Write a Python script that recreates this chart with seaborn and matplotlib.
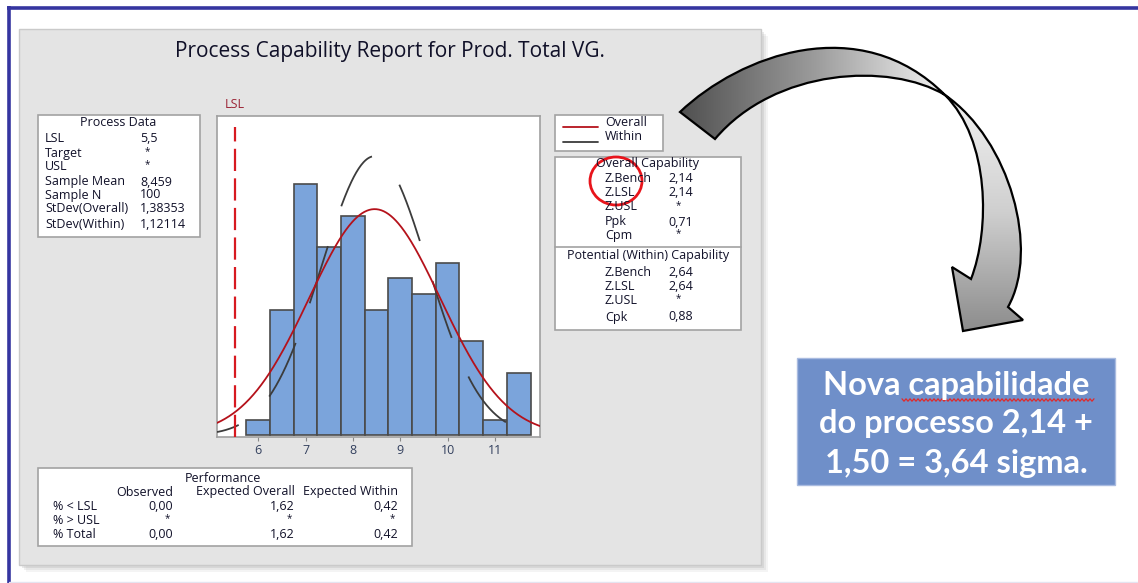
import numpy as np
import matplotlib
matplotlib.use("Agg")
import matplotlib.pyplot as plt
import seaborn as sns
from matplotlib.patches import Rectangle, PathPatch, Ellipse
from matplotlib.path import Path
from matplotlib.colors import LinearSegmentedColormap

# histogram data
bin_edges = [5.75, 6.25, 6.75, 7.25, 7.75, 8.25, 8.75, 9.25, 9.75, 10.25, 10.75, 11.25, 11.75]
bin_counts = [1, 8, 16, 12, 14, 8, 10, 9, 11, 6, 1, 4]
bin_mids = [6.0, 6.5, 7.0, 7.5, 8.0, 8.5, 9.0, 9.5, 10.0, 10.5, 11.0, 11.5]
x_ticks = [6, 7, 8, 9, 10, 11]

lsl = 5.5
sample_mean = 8.459
sample_n = 100
sd_overall = 1.38353
sd_within = 1.12114

process_labels = ["LSL", "Target", "USL", "Sample Mean", "Sample N", "StDev(Overall)", "StDev(Within)"]
process_values = ["5,5", "*", "*", "8,459", "100", "1,38353", "1,12114"]

overall_labels = ["Z.Bench", "Z.LSL", "Z.USL", "Ppk", "Cpm"]
overall_values = ["2,14", "2,14", "*", "0,71", "*"]
within_labels = ["Z.Bench", "Z.LSL", "Z.USL", "Cpk"]
within_values = ["2,64", "2,64", "*", "0,88"]

perf_rows = ["% < LSL", "% > USL", "% Total"]
perf_observed = ["0,00", "*", "0,00"]
perf_exp_overall = ["1,62", "*", "1,62"]
perf_exp_within = ["0,42", "*", "0,42"]

W, H = 1138, 583
TXT = "#101028"

sns.set_theme(style="white")
plt.rcParams['font.family'] = ['Open Sans', 'DejaVu Sans']

fig = plt.figure(figsize=(W / 100, H / 100), dpi=100)
fig.patch.set_facecolor("white")

# background / decoration axes in pixel coordinates
bg = fig.add_axes([0, 0, 1, 1], zorder=0)
bg.set_xlim(0, W)
bg.set_ylim(H, 0)
bg.axis("off")

# outer frame
bg.plot([7, W], [7.5, 7.5], color="#3535a0", lw=2.6, solid_capstyle="butt")
bg.plot([9, 9], [6, H], color="#3535a0", lw=2.6, solid_capstyle="butt")
bg.plot([9, W], [581.5, 581.5], color="#e4e4f0", lw=1)

# report panel with soft shadow
for i, a in enumerate([0.10, 0.14, 0.20]):
    off = 7 - 2 * i
    bg.add_patch(Rectangle((19 + off, 29 + off), 742, 536, facecolor="#9a9a9a",
                           edgecolor="none", alpha=a))
bg.add_patch(Rectangle((19, 29), 742, 536, facecolor="#e4e4e4", edgecolor="#cacaca", lw=1))

bg.text(390, 52, "Process Capability Report for Prod. Total VG.", ha="center", va="center",
        fontsize=15, color=TXT)

box_kw = dict(facecolor="white", edgecolor="#a2a2a2", lw=1.2)
small = 9
star = 7


def cell(x, y, s, ha="left", star_x=None):
    if s == "*":
        bg.text(star_x if star_x is not None else x, y - 1, s, ha="center", va="center",
                fontsize=star, color=TXT)
    else:
        bg.text(x, y, s, ha=ha, va="center", fontsize=small, color=TXT)


# Process Data box
bg.add_patch(Rectangle((38, 115), 162, 122, **box_kw))
bg.text(118, 122, "Process Data", ha="center", va="center", fontsize=small, color=TXT)
proc_y = [138, 153, 166, 182, 195, 208, 224]
for lab, val, y in zip(process_labels, process_values, proc_y):
    cell(45, y, lab)
    cell(140, y, val, star_x=147)

# legend box
bg.add_patch(Rectangle((555, 115), 108, 36, **box_kw))
bg.plot([563, 598], [127, 127], color="#b5121b", lw=1.3)
bg.plot([563, 598], [142, 142], color="#3c3c3c", lw=1.3)
bg.text(605, 123, "Overall", ha="left", va="center", fontsize=small, color=TXT)
bg.text(605, 137, "Within", ha="left", va="center", fontsize=small, color=TXT)

# capability box
bg.add_patch(Rectangle((555, 157), 186, 173, **box_kw))
bg.plot([555, 741], [247, 247], color="#a2a2a2", lw=1.2)
bg.text(648, 163, "Overall Capability", ha="center", va="center", fontsize=small, color=TXT)
for lab, val, y in zip(overall_labels, overall_values, [179, 192, 207, 222, 235]):
    cell(605, y, lab)
    cell(668, y, val, star_x=678)
bg.text(648, 255, "Potential (Within) Capability", ha="center", va="center", fontsize=small, color=TXT)
for lab, val, y in zip(within_labels, within_values, [272, 287, 300, 317]):
    cell(605, y, lab)
    cell(668, y, val, star_x=678)

bg.add_patch(Ellipse((616, 181), 52, 48, facecolor="none", edgecolor="#e8141b", lw=2))

# Performance box
bg.add_patch(Rectangle((38, 468), 374, 78, **box_kw))
bg.text(223, 478, "Performance", ha="center", va="center", fontsize=small, color=TXT)
cols_x = [173, 295, 398]
for txt, xr in zip(["Observed", "Expected Overall", "Expected Within"], cols_x):
    bg.text(xr, 492, txt, ha="right", va="center", fontsize=small, color=TXT)
for i, (lab, y) in enumerate(zip(perf_rows, [507, 520, 535])):
    cell(53, y, lab)
    for col, xr in zip([perf_observed, perf_exp_overall, perf_exp_within], cols_x):
        cell(xr, y, col[i], ha="right", star_x=xr - 6)

bg.text(235, 104, "LSL", ha="center", va="center", fontsize=small, color="#9b2335")

# curved block arrow (two twisted ribbon parts with gradient)
p1 = Path([(680, 112), (740, 55), (860, 10), (945, 95),
           (890, 62), (775, 68), (715, 139), (680, 112)],
          [Path.MOVETO, Path.CURVE4, Path.CURVE4, Path.CURVE4,
           Path.CURVE4, Path.CURVE4, Path.CURVE4, Path.CLOSEPOLY])
p2 = Path([(945, 95), (1010, 140), (1040, 250), (1008, 307),
           (1023, 320), (963, 331), (952, 267), (971, 279),
           (990, 230), (990, 140), (945, 95), (945, 95)],
          [Path.MOVETO, Path.CURVE4, Path.CURVE4, Path.CURVE4,
           Path.LINETO, Path.LINETO, Path.LINETO, Path.LINETO,
           Path.CURVE4, Path.CURVE4, Path.CURVE4, Path.CLOSEPOLY])
cm1 = LinearSegmentedColormap.from_list("g1", ["#505050", "#9a9a9a", "#f2f2f2"])
cm2 = LinearSegmentedColormap.from_list("g2", ["#f4f4f4", "#cfcfcf", "#8a8a8a"])
grad = np.linspace(0, 1, 256)
for path, cm, ext, horiz in [(p1, cm1, (680, 945, 140, 40), True),
                             (p2, cm2, (940, 1045, 335, 90), False)]:
    patch = PathPatch(path, facecolor="none", edgecolor="black", lw=1.6, zorder=4)
    bg.add_patch(patch)
    img = grad[None, :] if horiz else grad[:, None]
    im = bg.imshow(img, cmap=cm, extent=ext, origin="upper", aspect="auto", zorder=3)
    im.set_clip_path(patch)
bg.set_xlim(0, W)
bg.set_ylim(H, 0)

# text box on the right
bg.add_patch(Rectangle((797, 358), 318, 127, facecolor="#6f8fc9", edgecolor="#a9bbe0", lw=1))
for line, y in zip(["Nova capabilidade", "do processo 2,14 +", "1,50 = 3,64 sigma."], [385, 424, 463]):
    bg.text(956, y, line, ha="center", va="center", fontsize=23.5, fontweight="bold",
            color="white", family=["Lato", "DejaVu Sans"])
wx = np.arange(902, 1095, 2.0)
wy = 400 + np.where(np.arange(len(wx)) % 2 == 0, -1.2, 1.2)
bg.plot(wx, wy, color="#e02a2a", lw=0.9)

# histogram axes
ax = fig.add_axes([217 / W, 1 - 437 / H, (540 - 217) / W, (437 - 116) / H], zorder=2)
ax.set_facecolor("white")
sns.histplot(x=bin_mids, weights=bin_counts, bins=bin_edges, stat="count", ax=ax,
             color="#7ba4db", edgecolor="#4a4a4a", linewidth=1.2, alpha=1)

xs = np.linspace(5.13, 11.95, 400)
width = bin_edges[1] - bin_edges[0]
scale = sample_n * width
y_overall = scale * np.exp(-0.5 * ((xs - sample_mean) / sd_overall) ** 2) / (sd_overall * np.sqrt(2 * np.pi))
y_within = scale * np.exp(-0.5 * ((xs - sample_mean) / sd_within) ** 2) / (sd_within * np.sqrt(2 * np.pi))
sns.lineplot(x=xs, y=y_within, ax=ax, color="#3c3c3c", lw=1.3,
             linestyle=(20.5, (33.2, 23.3)), zorder=3)
sns.lineplot(x=xs, y=y_overall, ax=ax, color="#b5121b", lw=1.3, zorder=4)
ax.axvline(lsl, ymin=0, ymax=0.965, color="#d71920", lw=1.6, linestyle=(0, (10, 3.3)), zorder=5)

ax.set_xlim(5.13, 11.95)
ax.set_ylim(-0.1, 20.35)
ax.set_xticks(x_ticks)
ax.set_yticks([])
ax.set_xlabel("")
ax.set_ylabel("")
ax.tick_params(axis="x", bottom=True, length=3, width=0.8, color="#888888",
               labelsize=9, labelcolor="#33405e", pad=2)
for s in ax.spines.values():
    s.set_color("#a0a0a0")
    s.set_linewidth(1.2)

fig.savefig("out.png", dpi=100, facecolor="white")
